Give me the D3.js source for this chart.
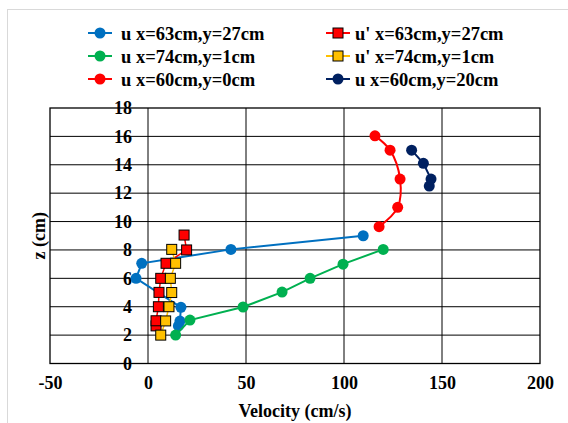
<!DOCTYPE html>
<html>
<head>
<meta charset="utf-8">
<script src="https://cdn.jsdelivr.net/npm/d3@7"></script>
<style>
  body { margin: 0; background: #fff; }
  svg text { font-family: "Liberation Serif", "Times New Roman", serif !important; font-weight: bold; fill: #000; }
</style>
</head>
<body>
<div id="chart"></div>
<script>
'use strict';

// velocity (cm/s) and height z (cm)
var blueVel  = [109.8, 42.3, -3.2, -6.1, 16.8, 16.3, 15.5];
var blueZ    = [9.0, 8.04, 7.06, 6.0, 3.96, 2.99, 2.65];
var redSqVel = [18.4, 19.7, 9.2, 6.5, 5.6, 5.3, 4.1, 4.1];
var redSqZ   = [9.05, 8.0, 7.06, 6.0, 5.01, 4.0, 3.01, 2.65];
var greenVel = [120.0, 99.5, 82.7, 68.4, 48.5, 21.4, 14.1];
var greenZ   = [8.04, 7.0, 6.0, 5.03, 3.98, 3.06, 2.0];
var yelSqVel = [12.1, 14.1, 11.4, 12.1, 10.7, 9.0, 6.5];
var yelSqZ   = [8.04, 7.06, 6.0, 5.0, 4.0, 3.0, 2.0];
var redVel   = [115.8, 123.5, 128.6, 127.4, 117.9];
var redZ     = [16.04, 15.03, 12.99, 11.0, 9.64];
var navyVel  = [134.5, 140.5, 144.4, 143.5];
var navyZ    = [15.03, 14.1, 12.99, 12.5];

var seriesNames = ['u x=63cm,y=27cm', "u' x=63cm,y=27cm", 'u x=74cm,y=1cm',
                   "u' x=74cm,y=1cm", 'u x=60cm,y=0cm', 'u x=60cm,y=20cm'];
var xTicks = [-50, 0, 50, 100, 150, 200];
var yTicks = [0, 2, 4, 6, 8, 10, 12, 14, 16, 18];

var W = 568, H = 423,
    plot = { left: 50, right: 540, top: 108, bottom: 363.5 };

var series = [
  { name: seriesNames[0], vel: blueVel,  z: blueZ,    color: '#0070C0', shape: 'circle' },
  { name: seriesNames[1], vel: redSqVel, z: redSqZ,   color: '#FF0000', shape: 'square' },
  { name: seriesNames[2], vel: greenVel, z: greenZ,   color: '#00B050', shape: 'circle' },
  { name: seriesNames[3], vel: yelSqVel, z: yelSqZ,   color: '#FFC000', shape: 'square' },
  { name: seriesNames[4], vel: redVel,   z: redZ,     color: '#FF0000', shape: 'circle', smooth: true },
  { name: seriesNames[5], vel: navyVel,  z: navyZ,    color: '#002060', shape: 'circle' }
];

var svg = d3.select('#chart').append('svg')
  .attr('width', W)
  .attr('height', H);

// outer chart border
svg.append('rect')
  .attr('x', 7.5).attr('y', 9.5)
  .attr('width', W).attr('height', H)
  .attr('fill', 'none')
  .attr('stroke', '#d9d9d9');

var x = d3.scaleLinear().domain([-50, 200]).range([plot.left, plot.right]);
var y = d3.scaleLinear().domain([0, 18]).range([plot.bottom, plot.top]);

// gridlines
svg.append('g').selectAll('line.h')
  .data(yTicks.slice(1, -1))
  .enter().append('line')
    .attr('x1', plot.left).attr('x2', plot.right)
    .attr('y1', function (d) { return y(d); })
    .attr('y2', function (d) { return y(d); })
    .attr('stroke', '#000').attr('stroke-width', 1);

svg.append('g').selectAll('line.v')
  .data(xTicks.slice(1, -1))
  .enter().append('line')
    .attr('y1', plot.top).attr('y2', plot.bottom)
    .attr('x1', function (d) { return x(d); })
    .attr('x2', function (d) { return x(d); })
    .attr('stroke', '#000').attr('stroke-width', 1);

svg.append('rect')
  .attr('x', plot.left).attr('y', plot.top)
  .attr('width', plot.right - plot.left)
  .attr('height', plot.bottom - plot.top)
  .attr('fill', 'none')
  .attr('stroke', '#000').attr('stroke-width', 1.3);

// x axis labels below the frame (plain hyphen for negatives)
var xAxis = d3.axisBottom(x).tickValues(xTicks).tickSize(0).tickPadding(13)
  .tickFormat(function (d) { return String(d); });
svg.append('g')
  .attr('transform', 'translate(0,' + plot.bottom + ')')
  .call(xAxis)
  .attr('font-family', null)
  .call(function (g) { g.select('.domain').remove(); })
  .selectAll('text')
    .style('font-size', '18px');

// y axis labels sit beside the x = 0 line
var yAxis = d3.axisLeft(y).tickValues(yTicks).tickSize(0).tickPadding(16)
  .tickFormat(function (d) { return String(d); });
svg.append('g')
  .attr('transform', 'translate(' + x(0) + ',0)')
  .call(yAxis)
  .attr('font-family', null)
  .call(function (g) { g.select('.domain').remove(); })
  .selectAll('text')
    .style('font-size', '18px');

svg.append('text')
  .attr('x', (plot.left + plot.right) / 2)
  .attr('y', 417)
  .attr('text-anchor', 'middle')
  .style('font-size', '18px')
  .text('Velocity (cm/s)');

svg.append('text')
  .attr('transform', 'translate(45,' + (plot.top + plot.bottom) / 2 + ') rotate(-90)')
  .attr('text-anchor', 'middle')
  .style('font-size', '18px')
  .text('z (cm)');

function drawMarker(g, shape, color) {
  if (shape === 'circle') {
    g.append('circle').attr('r', 5.5).attr('fill', color);
  } else {
    g.append('rect')
      .attr('x', -5).attr('y', -5)
      .attr('width', 10).attr('height', 10)
      .attr('fill', color)
      .attr('stroke', '#000').attr('stroke-width', 1);
  }
}

series.forEach(function (s) {
  var pts = s.vel.map(function (v, i) { return [v, s.z[i]]; });
  var line = d3.line()
    .x(function (d) { return x(d[0]); })
    .y(function (d) { return y(d[1]); })
    .curve(s.smooth ? d3.curveCatmullRom : d3.curveLinear);

  var g = svg.append('g');
  g.append('path')
    .attr('d', line(pts))
    .attr('fill', 'none')
    .attr('stroke', s.color)
    .attr('stroke-width', s.shape === 'circle' ? 2 : 1.5);

  // lower points first so the upper ones sit on top
  pts.slice().reverse().forEach(function (d) {
    var m = g.append('g')
      .attr('transform', 'translate(' + x(d[0]) + ',' + y(d[1]) + ')');
    drawMarker(m, s.shape, s.color);
  });
});

// legend, two columns by three rows
var legend = svg.append('g');
series.forEach(function (s, i) {
  var cx = i % 2 === 0 ? 100 : 338,
      cy = 33 + Math.floor(i / 2) * 23;
  var item = legend.append('g').attr('transform', 'translate(' + cx + ',' + cy + ')');
  item.append('line')
    .attr('x1', -12).attr('x2', 12)
    .attr('stroke', s.color).attr('stroke-width', 2);
  drawMarker(item, s.shape, s.color);
  item.append('text')
    .attr('x', i % 2 === 0 ? 21 : 17).attr('y', 6.5)
    .style('font-size', '18.5px')
    .text(s.name);
});
</script>
</body>
</html>
